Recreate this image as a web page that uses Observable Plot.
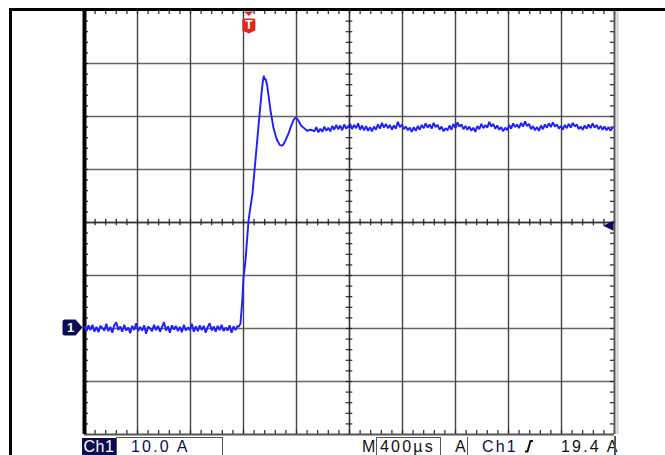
<!DOCTYPE html>
<html><head><meta charset="utf-8">
<script src="https://cdn.jsdelivr.net/npm/d3@7"></script>
<script src="https://cdn.jsdelivr.net/npm/@observablehq/plot@0.6"></script>
<style>
body{margin:0;background:#fff;}
#wrap{position:relative;width:665px;height:455px;overflow:hidden;background:#fff;font-family:"Liberation Sans",Arial,sans-serif;}
#chart svg{display:block}
#frame{position:absolute;left:9px;top:8px;width:700px;height:500px;border-left:3px solid #000;border-top:3px solid #000;pointer-events:none}
#bar{position:absolute;left:0;top:436px;width:665px;height:19px;font-size:16px;}
.lbl{position:absolute;top:0;height:19px;line-height:19px;white-space:nowrap}
.sp{letter-spacing:2.2px}
</style></head><body>
<div id="wrap"><div id="chart"></div><div id="bar"></div><div id="frame"></div></div>
<script>
// ---- scope settings ----
const timePerDiv = 400;      // µs per division
const ampsPerDiv = 10;       // A per division
const timeDivs = 10;
const ampTop = 60, ampBottom = -20;
const triggerTime = 1240;    // µs
const triggerLevel = 19.4;   // A

// ---- trace samples ----
const sampleStep = 15; // µs between baseline / plateau samples
const baselineCurrent = [
 0.4,-0.5,0.6,-0.3,0.7,-0.6,0.3,-0.7,0.5,0.1,-0.4,0.9,-0.5,
 0.3,-0.8,0.6,1.2,-0.3,0.4,-0.6,0.7,-0.4,0.2,-0.9,0.5,-0.3,
 1.0,-0.5,0.3,-0.4,0.6,-1.0,0.4,0.0,-0.5,0.7,-0.3,0.5,-0.6,
 0.3,1.2,-0.4,0.4,-0.8,0.6,-0.2,0.5,-0.5,0.3,-0.7,0.7,-0.4,
 0.2,-0.3,0.9,-0.6,0.4,-0.5,0.6,-0.3,0.5,-0.8,0.3,1.0,-0.4,
 0.4,-0.6,0.5,-0.3,0.7,-0.5,0.2,-0.4,0.6,-0.8,0.4,-0.3,0.5];
const transientTime = [1162,1177,1190,1200,1215,1238,1268,1283,1300,1315,1336,1345,1353,1360,1366,1379,1392,1404,1426,1440,1454,1475,1492,1505,1517,1540,1555,1575,1592,1604,1615,1635,1653,1680,1705,1721];
const transientCurrent = [0.3,0.9,5.0,9.6,12.8,20.4,25.5,29.8,34.5,38.7,44.3,46.5,47.7,46.9,47.2,45.8,43.4,41.1,37.9,36.6,35.5,34.6,34.5,34.9,35.5,36.8,37.9,39.2,39.8,39.6,39.2,38.3,37.9,37.3,37.5,37.4];
const plateauStart = 1735;
const plateauCurrent = [
 37.2,38.0,37.0,37.7,37.1,38.1,37.3,37.9,37.2,38.2,37.5,38.4,37.6,38.3,37.4,38.5,37.7,38.1,
 38.6,37.6,38.4,37.8,38.7,37.5,38.3,37.4,38.2,37.3,38.0,37.2,38.1,37.5,38.5,37.7,38.8,37.9,38.6,37.8,
 38.4,37.5,38.3,37.7,39.0,38.0,38.5,37.6,38.1,37.4,37.9,37.1,38.0,37.3,38.2,37.5,38.4,37.8,38.7,37.9,
 38.5,37.7,38.8,38.0,38.4,37.5,38.1,37.2,37.8,37.4,38.3,37.5,38.6,37.8,38.9,38.1,38.5,37.6,38.2,37.5,
 38.1,37.3,37.9,37.1,38.2,37.6,38.6,37.8,38.4,37.9,39.0,38.1,38.6,37.7,38.3,37.5,38.0,37.2,37.9,37.4,
 38.4,37.7,38.7,38.0,38.5,37.8,38.8,38.1,39.1,38.2,38.6,37.6,38.2,37.4,38.0,37.3,38.3,37.6,38.5,37.9,
 38.7,38.0,38.9,38.1,38.5,37.7,38.2,37.5,38.4,37.8,38.6,37.9,38.8,38.1,38.5,37.6,38.1,37.5,38.3,37.7,
 38.5,37.8,38.7,37.9,38.4,37.6,38.2,37.5,38.1,37.4,38.0,37.3,37.9];

// ---- readout labels ----
const channelLabel = "Ch1";
const scaleLabel = "10.0 A";
const timebaseLabel = "400µs";
const triggerLabel = "19.4 A";

// ---- build ----
const trace = [
  ...baselineCurrent.map((a, i) => ({t: i * sampleStep, a})),
  ...transientTime.map((t, i) => ({t, a: transientCurrent[i]})),
  ...plateauCurrent.map((a, i) => ({t: plateauStart + i * sampleStep, a}))
];
const tMax = timePerDiv * timeDivs;
const xMajor = d3.range(0, tMax + 1, timePerDiv);
const yMajor = d3.range(ampBottom, ampTop + 1, ampsPerDiv);
const xMinor = d3.range(0, tMax + 1, timePerDiv / 5);
const yMinor = d3.range(ampBottom, ampTop + 1, ampsPerDiv / 5);

const mL = 84, mR = 51, mT = 10, mB = 2, W = 665, H = 436;
const pxX = tMax / (W - mL - mR);
const pxY = (ampTop - ampBottom) / (H - mT - mB);
const tickLen = 4, crossLen = 3.3;
const tMid = tMax / 2, aMid = (ampTop + ampBottom) / 2;

const sym = (f) => ({draw(ctx, size) { const k = Math.sqrt(size / Math.PI); f(ctx, k); }});
const shield = sym((c, k) => {
  c.moveTo(-6.5*k, -5.5*k); c.quadraticCurveTo(-6.5*k, -7.5*k, -4.5*k, -7.5*k);
  c.lineTo(4.5*k, -7.5*k); c.quadraticCurveTo(6.5*k, -7.5*k, 6.5*k, -5.5*k);
  c.lineTo(6.5*k, 4.5*k); c.lineTo(0, 7.5*k); c.lineTo(-6.5*k, 4.5*k); c.closePath();
});
const triDown = sym((c, k) => { c.moveTo(-4.5*k, -2*k); c.lineTo(4.5*k, -2*k); c.lineTo(0, 2.5*k); c.closePath(); });
const arrowLeft = sym((c, k) => { c.moveTo(-5.5*k, 0); c.lineTo(5*k, -5*k); c.lineTo(5*k, 5*k); c.closePath(); });
const groundTag = sym((c, k) => {
  c.moveTo(-7.5*k, -8*k); c.lineTo(3*k, -8*k); c.lineTo(10*k, 0); c.lineTo(3*k, 8*k);
  c.lineTo(-7.5*k, 8*k); c.quadraticCurveTo(-10*k, 8*k, -10*k, 5.5*k);
  c.lineTo(-10*k, -5.5*k); c.quadraticCurveTo(-10*k, -8*k, -7.5*k, -8*k); c.closePath();
});

const navy = "#0c0c50";
const chart = Plot.plot({
  width: W, height: H,
  marginLeft: mL, marginRight: mR, marginTop: mT, marginBottom: mB,
  x: {domain: [0, tMax], axis: null},
  y: {domain: [ampBottom, ampTop], axis: null},
  style: {background: "white", overflow: "visible"},
  marks: [
    Plot.ruleY(yMajor.slice(1, -1), {stroke: "#666", strokeWidth: 1.4}),
    Plot.ruleX(xMajor.slice(1, -1), {stroke: "#444", strokeWidth: 1.4}),
    Plot.ruleY([aMid], {stroke: "#333", strokeWidth: 1.3}),
    Plot.ruleX([tMid], {stroke: "#333", strokeWidth: 1.3}),
    // edge ticks
    Plot.ruleX(xMinor, {x: d => d, y1: ampTop, y2: ampTop - tickLen * pxY, stroke: "#222", strokeWidth: 1.2}),
    Plot.ruleX(xMinor, {x: d => d, y1: ampBottom, y2: ampBottom + tickLen * pxY, stroke: "#222", strokeWidth: 1.2}),
    Plot.ruleY(yMinor, {y: d => d, x1: 0, x2: tickLen * pxX, stroke: "#222", strokeWidth: 1.2}),
    Plot.ruleY(yMinor, {y: d => d, x1: tMax - tickLen * pxX, x2: tMax, stroke: "#222", strokeWidth: 1.2}),
    // center cross ticks
    Plot.ruleX(xMinor, {x: d => d, y1: aMid - crossLen * pxY, y2: aMid + crossLen * pxY, stroke: "#222", strokeWidth: 1.2}),
    Plot.ruleY(yMinor, {y: d => d, x1: tMid - crossLen * pxX, x2: tMid + crossLen * pxX, stroke: "#222", strokeWidth: 1.2}),
    // frame edges
    Plot.ruleX([tMax], {stroke: "#555", strokeWidth: 2}),
    Plot.ruleX([tMax], {stroke: "#ccc", strokeWidth: 2, dx: 3}),
    Plot.ruleY([ampBottom], {stroke: "#555", strokeWidth: 2}),
    Plot.ruleX([0], {stroke: "#000", strokeWidth: 4}),
    // trace
    Plot.line(trace, {x: "t", y: "a", stroke: "#1e1eff", strokeWidth: 1.9, strokeLinejoin: "miter"}),
    // trigger position marker
    Plot.dot([triggerTime], {x: d => d, y: () => ampTop, symbol: triDown, r: 1, fill: "#e3261c", dy: 3}),
    Plot.dot([triggerTime], {x: d => d, y: () => ampTop, symbol: shield, r: 1, fill: "#e3261c", dy: 15.5}),
    Plot.text([triggerTime], {x: d => d, y: () => ampTop, text: () => "T", fill: "white", fontWeight: "bold", fontSize: 12, dy: 15, fontFamily: "Liberation Sans"}),
    // trigger level arrow
    Plot.dot([triggerLevel], {x: () => tMax, y: d => d, symbol: arrowLeft, r: 1, fill: navy, dx: -6}),
    // ground marker
    Plot.dot([0], {x: () => 0, y: d => d, symbol: groundTag, r: 1, fill: navy, dx: -12, dy: -1}),
    Plot.text([0], {x: () => 0, y: d => d, text: () => "1", fill: "white", fontWeight: "bold", fontSize: 13, dx: -14, dy: -1, fontFamily: "Liberation Sans"})
  ]
});
document.getElementById("chart").append(chart);

// readout bar
const bar = document.getElementById("bar");
function add(html, css, cls) { const e = document.createElement("div"); e.className = "lbl" + (cls ? " " + cls : ""); e.innerHTML = html; Object.assign(e.style, css); bar.append(e); return e; }
add(channelLabel, {left: "82px", width: "34px", top: "2px", height: "17px", lineHeight: "17px", background: navy, color: "white", textAlign: "center", letterSpacing: "0.5px"});
add("", {left: "116px", width: "105px", top: "1px", height: "20px", borderTop: "1px solid #555", borderLeft: "1px solid #555", borderRight: "1px solid #555"});
add(scaleLabel, {left: "131px", color: navy, top: "1px"}, "sp");
add("M", {left: "362px", color: "#111", top: "1px"});
add("", {left: "376px", width: "63px", top: "1px", height: "20px", borderTop: "1px solid #555", borderLeft: "1px solid #555", borderRight: "1px solid #555"});
add(timebaseLabel, {left: "380px", color: "#111", top: "1px"}, "sp");
add("A", {left: "455px", color: "#111", top: "1px"});
add("", {left: "467px", width: "0px", top: "1px", height: "20px", borderLeft: "1px solid #555"});
add(channelLabel, {left: "482px", color: navy, top: "1px"}, "sp");
add('<svg width="10" height="14" style="display:block"><path d="M1,12.5 L3.5,12.5 L6.5,2 L9,2" fill="none" stroke="#111" stroke-width="2"/></svg>', {left: "524px", top: "3px"});
add(triggerLabel, {left: "561px", color: "#111", top: "1px"}, "sp");
add("", {left: "614px", width: "0px", top: "0px", height: "20px", borderLeft: "2px solid #555"});
</script>
</body></html>
